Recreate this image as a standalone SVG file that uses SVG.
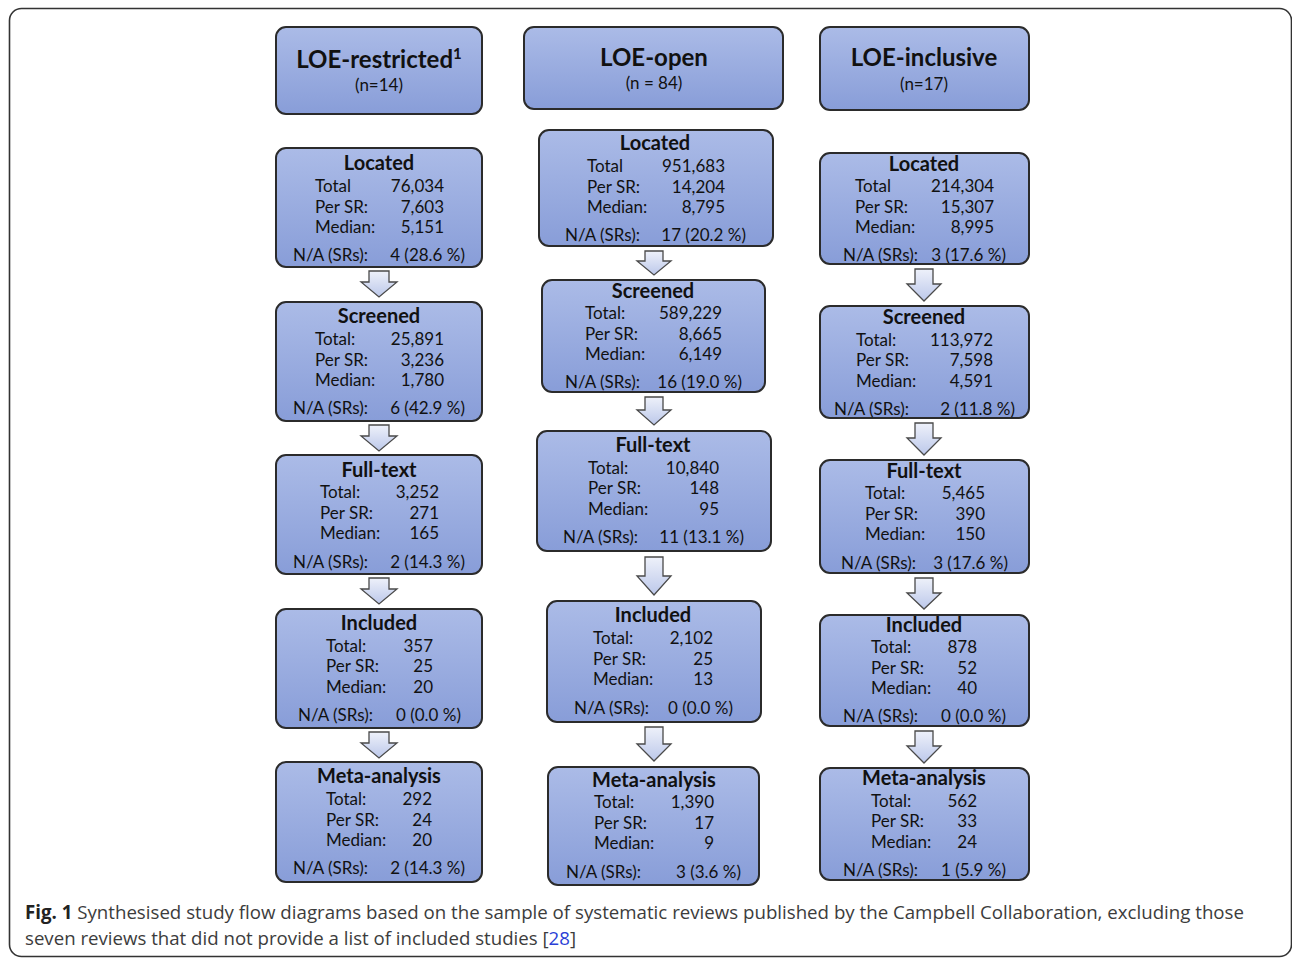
<svg xmlns="http://www.w3.org/2000/svg" width="1292" height="958" viewBox="0 0 1292 958">
<defs>
<linearGradient id="boxg" x1="0" y1="0" x2="0" y2="1">
<stop offset="0" stop-color="#abbbe7"/>
<stop offset="1" stop-color="#889dd8"/>
</linearGradient>
<linearGradient id="arrg" x1="0" y1="0" x2="0" y2="1">
<stop offset="0" stop-color="#eef1fa"/>
<stop offset="1" stop-color="#bcc8ea"/>
</linearGradient>
<style>
.box{fill:url(#boxg);stroke:#2b2b2b;stroke-width:2}
.arr{fill:url(#arrg);stroke:#4a4a4a;stroke-width:1.3;stroke-linejoin:miter}
text{font-family:Lato,"Open Sans","DejaVu Sans",sans-serif;fill:#111}
.h{font-size:24px;font-weight:bold;text-anchor:middle}
.n{font-size:17px;text-anchor:middle}
.t{font-size:20px;font-weight:bold;text-anchor:middle}
.r{font-size:17px}
.v{font-size:17px;text-anchor:end}
.cap{font-family:"Open Sans","DejaVu Sans",sans-serif;font-size:19px;fill:#3c3c3c}
</style>
</defs>
<rect x="9.5" y="8.5" width="1282" height="948" rx="12" fill="none" stroke="#333" stroke-width="1.6"/>

<g id="connectors">
<path class="arr" d="M369,271 h20 v11 h8 l-18,15 l-18,-15 h8 z"/>
<path class="arr" d="M369,425 h20 v11 h8 l-18,15 l-18,-15 h8 z"/>
<path class="arr" d="M369,578 h20 v11 h8 l-18,15 l-18,-15 h8 z"/>
<path class="arr" d="M369,732 h20 v11 h8 l-18,15 l-18,-15 h8 z"/>

<path class="arr" d="M645,251 h18 v10 h8 l-17,14 l-17,-14 h8 z"/>
<path class="arr" d="M645,397 h18 v13 h8 l-17,15 l-17,-15 h8 z"/>
<path class="arr" d="M645,557 h18 v19 h8 l-17,19 l-17,-19 h8 z"/>
<path class="arr" d="M645,727 h18 v17 h8 l-17,17 l-17,-17 h8 z"/>

<path class="arr" d="M915,269 h18 v15 h8 l-17,17 l-17,-17 h8 z"/>
<path class="arr" d="M915,423 h18 v15 h8 l-17,17 l-17,-17 h8 z"/>
<path class="arr" d="M915,578 h18 v15 h8 l-17,16 l-17,-16 h8 z"/>
<path class="arr" d="M915,731 h18 v15 h8 l-17,17 l-17,-17 h8 z"/>
</g>

<!-- Column 1 -->
<g id="restricted-header">
<rect class="box" x="276" y="27" width="206" height="87" rx="10"/>
<text class="h" x="379" y="68">LOE-restricted<tspan font-size="15" dy="-9">1</tspan></text>
<text class="n" x="379" y="91">(n=14)</text>
</g>
<g id="restricted-located">
<rect class="box" x="276" y="148" width="206" height="119" rx="10"/>
<text class="t" x="379" y="170">Located</text>
<text class="r" x="315" y="192">Total</text><text class="v" x="444" y="192">76,034</text>
<text class="r" x="315" y="213">Per SR:</text><text class="v" x="444" y="213">7,603</text>
<text class="r" x="315" y="233">Median:</text><text class="v" x="444" y="233">5,151</text>
<text class="r" x="293" y="261">N/A (SRs):</text><text class="v" x="465" y="261">4 (28.6 %)</text>
</g>
<g id="restricted-screened">
<rect class="box" x="276" y="302" width="206" height="119" rx="10"/>
<text class="t" x="379" y="323">Screened</text>
<text class="r" x="315" y="345">Total:</text><text class="v" x="444" y="345">25,891</text>
<text class="r" x="315" y="366">Per SR:</text><text class="v" x="444" y="366">3,236</text>
<text class="r" x="315" y="386">Median:</text><text class="v" x="444" y="386">1,780</text>
<text class="r" x="293" y="414">N/A (SRs):</text><text class="v" x="465" y="414">6 (42.9 %)</text>
</g>
<g id="restricted-fulltext">
<rect class="box" x="276" y="455" width="206" height="119" rx="10"/>
<text class="t" x="379" y="477">Full-text</text>
<text class="r" x="320" y="498">Total:</text><text class="v" x="439" y="498">3,252</text>
<text class="r" x="320" y="519">Per SR:</text><text class="v" x="439" y="519">271</text>
<text class="r" x="320" y="539">Median:</text><text class="v" x="439" y="539">165</text>
<text class="r" x="293" y="568">N/A (SRs):</text><text class="v" x="465" y="568">2 (14.3 %)</text>
</g>
<g id="restricted-included">
<rect class="box" x="276" y="609" width="206" height="119" rx="10"/>
<text class="t" x="379" y="630">Included</text>
<text class="r" x="326" y="652">Total:</text><text class="v" x="433" y="652">357</text>
<text class="r" x="326" y="672">Per SR:</text><text class="v" x="433" y="672">25</text>
<text class="r" x="326" y="693">Median:</text><text class="v" x="433" y="693">20</text>
<text class="r" x="298" y="721">N/A (SRs):</text><text class="v" x="461" y="721">0  (0.0 %)</text>
</g>
<g id="restricted-meta">
<rect class="box" x="276" y="762" width="206" height="120" rx="10"/>
<text class="t" x="379" y="783">Meta-analysis</text>
<text class="r" x="326" y="805">Total:</text><text class="v" x="432" y="805">292</text>
<text class="r" x="326" y="826">Per SR:</text><text class="v" x="432" y="826">24</text>
<text class="r" x="326" y="846">Median:</text><text class="v" x="432" y="846">20</text>
<text class="r" x="293" y="874">N/A (SRs):</text><text class="v" x="465" y="874">2 (14.3 %)</text>
</g>

<!-- Column 2 -->
<g id="open-header">
<rect class="box" x="524" y="27" width="259" height="82" rx="10"/>
<text class="h" x="654" y="66">LOE-open</text>
<text class="n" x="654" y="89">(n = 84)</text>
</g>
<g id="open-located">
<rect class="box" x="539" y="130" width="234" height="116" rx="10"/>
<text class="t" x="655" y="150">Located</text>
<text class="r" x="587" y="172">Total</text><text class="v" x="725" y="172">951,683</text>
<text class="r" x="587" y="193">Per SR:</text><text class="v" x="725" y="193">14,204</text>
<text class="r" x="587" y="213">Median:</text><text class="v" x="725" y="213">8,795</text>
<text class="r" x="565" y="241">N/A (SRs):</text><text class="v" x="746" y="241">17 (20.2 %)</text>
</g>
<g id="open-screened">
<rect class="box" x="542" y="280" width="223" height="112" rx="10"/>
<text class="t" x="653" y="298">Screened</text>
<text class="r" x="585" y="319">Total:</text><text class="v" x="722" y="319">589,229</text>
<text class="r" x="585" y="340">Per SR:</text><text class="v" x="722" y="340">8,665</text>
<text class="r" x="585" y="360">Median:</text><text class="v" x="722" y="360">6,149</text>
<text class="r" x="565" y="388">N/A (SRs):</text><text class="v" x="742" y="388">16 (19.0 %)</text>
</g>
<g id="open-fulltext">
<rect class="box" x="537" y="431" width="234" height="120" rx="10"/>
<text class="t" x="653" y="452">Full-text</text>
<text class="r" x="588" y="474">Total:</text><text class="v" x="719" y="474">10,840</text>
<text class="r" x="588" y="494">Per SR:</text><text class="v" x="719" y="494">148</text>
<text class="r" x="588" y="515">Median:</text><text class="v" x="719" y="515">95</text>
<text class="r" x="563" y="543">N/A (SRs):</text><text class="v" x="744" y="543">11 (13.1 %)</text>
</g>
<g id="open-included">
<rect class="box" x="547" y="601" width="214" height="121" rx="10"/>
<text class="t" x="653" y="622">Included</text>
<text class="r" x="593" y="644">Total:</text><text class="v" x="713" y="644">2,102</text>
<text class="r" x="593" y="665">Per SR:</text><text class="v" x="713" y="665">25</text>
<text class="r" x="593" y="685">Median:</text><text class="v" x="713" y="685">13</text>
<text class="r" x="574" y="714">N/A (SRs):</text><text class="v" x="733" y="714">0 (0.0 %)</text>
</g>
<g id="open-meta">
<rect class="box" x="548" y="767" width="211" height="118" rx="10"/>
<text class="t" x="654" y="787">Meta-analysis</text>
<text class="r" x="594" y="808">Total:</text><text class="v" x="714" y="808">1,390</text>
<text class="r" x="594" y="829">Per SR:</text><text class="v" x="714" y="829">17</text>
<text class="r" x="594" y="849">Median:</text><text class="v" x="714" y="849">9</text>
<text class="r" x="566" y="878">N/A (SRs):</text><text class="v" x="741" y="878">3 (3.6 %)</text>
</g>

<!-- Column 3 -->
<g id="inclusive-header">
<rect class="box" x="820" y="27" width="209" height="83" rx="10"/>
<text class="h" x="924" y="66">LOE-inclusive</text>
<text class="n" x="924" y="90">(n=17)</text>
</g>
<g id="inclusive-located">
<rect class="box" x="820" y="153" width="209" height="111" rx="10"/>
<text class="t" x="924" y="171">Located</text>
<text class="r" x="855" y="192">Total</text><text class="v" x="994" y="192">214,304</text>
<text class="r" x="855" y="213">Per SR:</text><text class="v" x="994" y="213">15,307</text>
<text class="r" x="855" y="233">Median:</text><text class="v" x="994" y="233">8,995</text>
<text class="r" x="843" y="261">N/A (SRs):</text><text class="v" x="1006" y="261">3 (17.6 %)</text>
</g>
<g id="inclusive-screened">
<rect class="box" x="820" y="306" width="209" height="112" rx="10"/>
<text class="t" x="924" y="324">Screened</text>
<text class="r" x="856" y="346">Total:</text><text class="v" x="993" y="346">113,972</text>
<text class="r" x="856" y="366">Per SR:</text><text class="v" x="993" y="366">7,598</text>
<text class="r" x="856" y="387">Median:</text><text class="v" x="993" y="387">4,591</text>
<text class="r" x="834" y="415">N/A (SRs):</text><text class="v" x="1015" y="415">2 (11.8 %)</text>
</g>
<g id="inclusive-fulltext">
<rect class="box" x="820" y="460" width="209" height="113" rx="10"/>
<text class="t" x="924" y="478">Full-text</text>
<text class="r" x="865" y="499">Total:</text><text class="v" x="985" y="499">5,465</text>
<text class="r" x="865" y="520">Per SR:</text><text class="v" x="985" y="520">390</text>
<text class="r" x="865" y="540">Median:</text><text class="v" x="985" y="540">150</text>
<text class="r" x="841" y="569">N/A (SRs):</text><text class="v" x="1008" y="569">3 (17.6 %)</text>
</g>
<g id="inclusive-included">
<rect class="box" x="820" y="615" width="209" height="111" rx="10"/>
<text class="t" x="924" y="632">Included</text>
<text class="r" x="871" y="653">Total:</text><text class="v" x="977" y="653">878</text>
<text class="r" x="871" y="674">Per SR:</text><text class="v" x="977" y="674">52</text>
<text class="r" x="871" y="694">Median:</text><text class="v" x="977" y="694">40</text>
<text class="r" x="843" y="722">N/A (SRs):</text><text class="v" x="1006" y="722">0 (0.0 %)</text>
</g>
<g id="inclusive-meta">
<rect class="box" x="820" y="768" width="209" height="112" rx="10"/>
<text class="t" x="924" y="785">Meta-analysis</text>
<text class="r" x="871" y="807">Total:</text><text class="v" x="977" y="807">562</text>
<text class="r" x="871" y="827">Per SR:</text><text class="v" x="977" y="827">33</text>
<text class="r" x="871" y="848">Median:</text><text class="v" x="977" y="848">24</text>
<text class="r" x="843" y="876">N/A (SRs):</text><text class="v" x="1006" y="876">1 (5.9 %)</text>
</g>

<g id="caption">
<text class="cap" x="25" y="919" textLength="1219" lengthAdjust="spacingAndGlyphs"><tspan font-weight="bold" fill="#222">Fig. 1</tspan> Synthesised study flow diagrams based on the sample of systematic reviews published by the Campbell Collaboration, excluding those</text>
<text class="cap" x="25" y="945" textLength="551" lengthAdjust="spacingAndGlyphs">seven reviews that did not provide a list of included studies [<tspan style="fill:#2b3fd6">28</tspan>]</text>
</g>
</svg>
